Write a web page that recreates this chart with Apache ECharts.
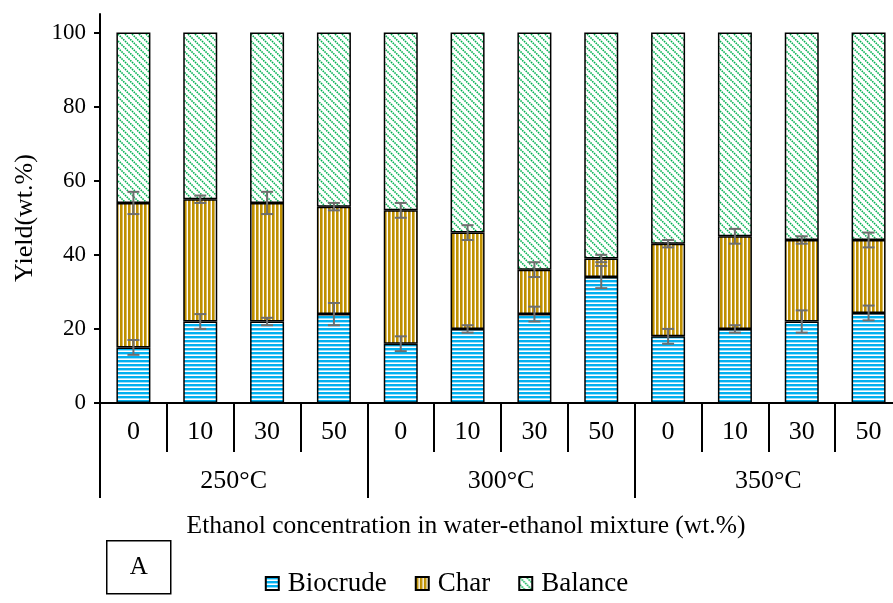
<!DOCTYPE html>
<html>
<head>
<meta charset="utf-8">
<script src="https://cdn.jsdelivr.net/npm/echarts@6/dist/echarts.min.js"></script>
<style>
  html, body { margin: 0; padding: 0; background: #fff; overflow: hidden; }
  #chart { width: 893px; height: 603px; }
</style>
</head>
<body>
<div id="chart"></div>
<script>
// Ethanol concentration (wt.%) for each bar, grouped by temperature
const concentrations = ['0', '10', '30', '50', '0', '10', '30', '50', '0', '10', '30', '50'];
const temperatures = ['250°C', '300°C', '350°C'];

// Product yields (wt.%)
const biocrude = [15, 22, 22, 24, 16, 20, 24, 34, 18, 20, 22, 24.3];
const charYield = [39, 33, 32, 29, 36, 26, 12, 5, 25, 25, 22, 19.7];
const balance = [46, 45, 46, 47, 48, 54, 64, 61, 57, 55, 56, 56];

// Standard deviations
const biocrudeErr = [2, 2, 1, 3, 2, 1, 2, 3, 2, 1, 3, 2];
const charErr = [3, 1, 3, 1, 2, 2, 2, 1, 1, 2, 1, 2];

const yTicks = [0, 20, 40, 60, 80, 100];

const FONT = 'Liberation Serif, Times New Roman, serif';

function tile(w, h, paint) {
  const c = document.createElement('canvas');
  c.width = w; c.height = h;
  const g = c.getContext('2d');
  g.fillStyle = '#ffffff';
  g.fillRect(0, 0, w, h);
  paint(g);
  return c;
}

// Horizontal light-blue stripes
const bioPattern = tile(4, 4, g => {
  g.fillStyle = '#00B0F0';
  g.fillRect(0, 0, 4, 2.4);
});
// Vertical gold stripes
const charPattern = tile(4, 4, g => {
  g.fillStyle = '#BF9000';
  g.fillRect(0, 0, 2.6, 4);
});
// Dashed downward diagonal in green
const balPattern = tile(7, 7, g => {
  const period = 7 * Math.SQRT2 / 4;
  g.strokeStyle = '#00B050';
  g.lineWidth = 1.6;
  g.setLineDash([period * 0.62, period * 0.38]);
  [-7, 0, 7].forEach(o => {
    g.beginPath();
    g.moveTo(o - 1, -1);
    g.lineTo(o + 8, 8);
    g.stroke();
  });
});

const errData = [];
biocrude.forEach((v, i) => errData.push([i, v, biocrudeErr[i]]));
biocrude.forEach((v, i) => errData.push([i, v + charYield[i], charErr[i]]));

function renderErr(params, api) {
  const i = api.value(0);
  const c = api.value(1);
  const e = api.value(2);
  const top = api.coord([i, c + e]);
  const bot = api.coord([i, c - e]);
  const x = top[0];
  const hw = 6;
  const st = { stroke: '#6e6e6e', lineWidth: 2 };
  return {
    type: 'group',
    children: [
      { type: 'line', shape: { x1: x, y1: top[1], x2: x, y2: bot[1] }, style: st },
      { type: 'line', shape: { x1: x - hw, y1: top[1], x2: x + hw, y2: top[1] }, style: st },
      { type: 'line', shape: { x1: x - hw, y1: bot[1], x2: x + hw, y2: bot[1] }, style: st }
    ]
  };
}

const barBorder = { borderColor: '#000', borderWidth: 1.5 };

const chart = echarts.init(document.getElementById('chart'), null, { renderer: 'canvas' });
chart.setOption({
  animation: false,
  backgroundColor: '#ffffff',
  textStyle: { fontFamily: FONT, color: '#000' },
  grid: { left: 100, top: 14, width: 802, height: 389, containLabel: false, outerBoundsMode: 'none' },
  title: {
    text: 'Ethanol concentration in water-ethanol mixture (wt.%)',
    left: 461, top: 508, textAlign: 'center',
    textStyle: { fontFamily: FONT, fontSize: 25.5, fontWeight: 'normal', color: '#000' }
  },
  legend: {
    left: 'center', top: 565,
    itemWidth: 13, itemHeight: 13, itemGap: 28,
    icon: 'rect',
    textStyle: { fontFamily: FONT, fontSize: 27, color: '#000', padding: [0, 0, 0, 4] },
    data: ['Biocrude', 'Char', 'Balance']
  },
  xAxis: [
    {
      type: 'category', data: concentrations, gridIndex: 0, position: 'bottom',
      axisLine: { show: true, lineStyle: { color: '#000', width: 2 } },
      axisTick: { show: true, length: 49, lineStyle: { color: '#000', width: 2 } },
      axisLabel: { margin: 16, fontFamily: FONT, fontSize: 26, color: '#000' },
      z: 10
    },
    {
      type: 'category', data: temperatures, gridIndex: 0, position: 'bottom',
      axisLine: { show: false },
      axisTick: { show: true, length: 95, lineStyle: { color: '#000', width: 2 } },
      axisLabel: { margin: 65, fontFamily: FONT, fontSize: 26, color: '#000' }
    }
  ],
  yAxis: {
    type: 'value', min: 0, max: 105,
    axisLine: { show: true, lineStyle: { color: '#000', width: 2 } },
    axisTick: { show: true, length: 6, lineStyle: { color: '#000', width: 2 }, customValues: yTicks },
    axisLabel: {
      margin: 14, fontFamily: FONT, fontSize: 23, color: '#000', customValues: yTicks,
      formatter: v => (yTicks.indexOf(v) >= 0 ? String(v) : '')
    },
    splitLine: { show: false }
  },
  graphic: [
    {
      type: 'text', x: 25, y: 218, rotation: Math.PI / 2,
      style: { text: 'Yield(wt.%)', font: '26px ' + FONT, fill: '#000', align: 'center', verticalAlign: 'middle' }
    },
    {
      type: 'group', left: 106, top: 540,
      children: [
        { type: 'rect', shape: { x: 0, y: 0, width: 64, height: 53 }, style: { fill: '#fff', stroke: '#000', lineWidth: 1.5 } },
        { type: 'text', x: 32, y: 27, style: { text: 'A', font: '25px ' + FONT, fill: '#000', align: 'center', verticalAlign: 'middle' } }
      ]
    }
  ],
  series: [
    {
      name: 'Biocrude', type: 'bar', stack: 'yield', barWidth: 34, xAxisIndex: 0,
      itemStyle: Object.assign({ color: { image: bioPattern, repeat: 'repeat' } }, barBorder),
      data: biocrude
    },
    {
      name: 'Char', type: 'bar', stack: 'yield', barWidth: 34, xAxisIndex: 0,
      itemStyle: Object.assign({ color: { image: charPattern, repeat: 'repeat' } }, barBorder),
      data: charYield
    },
    {
      name: 'Balance', type: 'bar', stack: 'yield', barWidth: 34, xAxisIndex: 0,
      itemStyle: Object.assign({ color: { image: balPattern, repeat: 'repeat' } }, barBorder),
      data: balance
    },
    {
      name: 'err', type: 'custom', xAxisIndex: 0, yAxisIndex: 0, z: 5,
      renderItem: renderErr,
      encode: { x: 0, y: 1 },
      data: errData
    }
  ]
});
</script>
</body>
</html>
